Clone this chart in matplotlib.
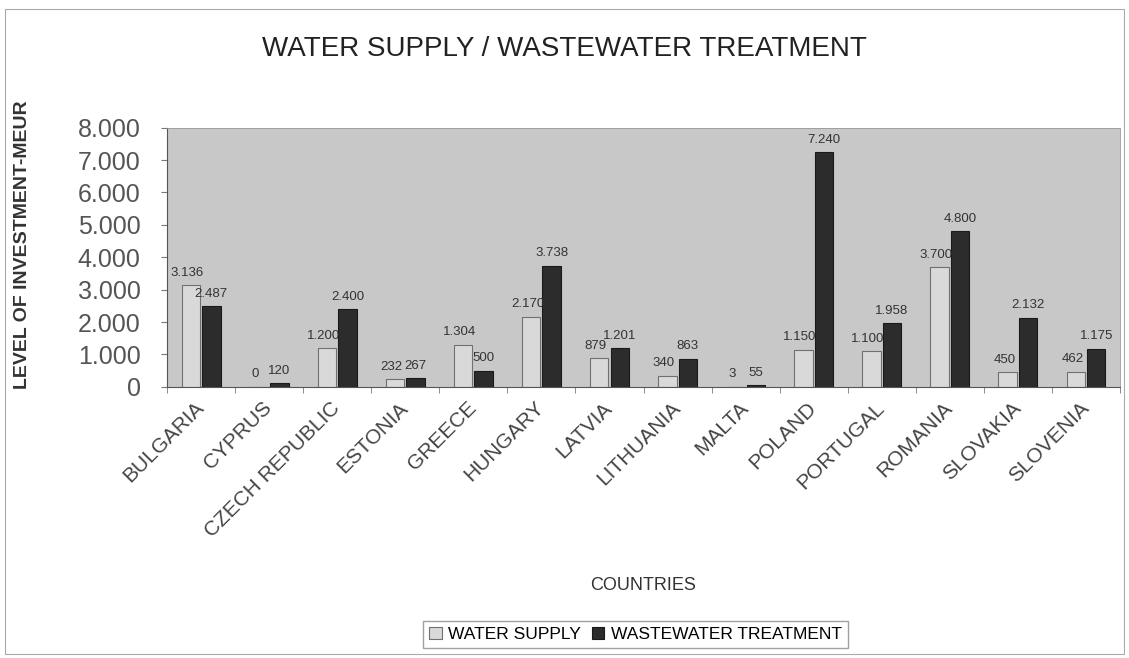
import numpy as np
import matplotlib.pyplot as plt
from matplotlib.patches import Rectangle
from matplotlib.transforms import ScaledTranslation

plt.rcParams['font.family'] = ['Liberation Sans', 'DejaVu Sans']

# Investment levels (MEUR) per country
countries = ['BULGARIA', 'CYPRUS', 'CZECH REPUBLIC', 'ESTONIA', 'GREECE',
             'HUNGARY', 'LATVIA', 'LITHUANIA', 'MALTA', 'POLAND',
             'PORTUGAL', 'ROMANIA', 'SLOVAKIA', 'SLOVENIA']
water_supply = [3136, 0, 1200, 232, 1304, 2170, 879, 340, 3, 1150,
                1100, 3700, 450, 462]
wastewater = [2487, 120, 2400, 267, 500, 3738, 1201, 863, 55, 7240,
              1958, 4800, 2132, 1175]
yticks = [0, 1000, 2000, 3000, 4000, 5000, 6000, 7000, 8000]


def fmt(v):
    # thousands separated by a dot, like the original
    return '{:,}'.format(v).replace(',', '.')


fig = plt.figure(figsize=(11.29, 6.58), dpi=100)
ax = fig.add_axes([0.148, 0.412, 0.844, 0.394])

x = np.arange(len(countries))
w = 0.27
b1 = ax.bar(x - 0.15, water_supply, w, color='#d9d9d9', edgecolor='#707070',
            linewidth=0.8, label='WATER SUPPLY')
b2 = ax.bar(x + 0.15, wastewater, w, color='#2c2c2c', edgecolor='#1a1a1a',
            linewidth=0.8, label='WASTEWATER TREATMENT')

for rect, v in zip(b1, water_supply):
    ax.text(rect.get_x() + rect.get_width()/2 - 0.05, v + 200, fmt(v),
            ha='center', va='bottom', fontsize=9.5, color='#333333')
for rect, v in zip(b2, wastewater):
    ax.text(rect.get_x() + rect.get_width()/2, v + 200, fmt(v),
            ha='center', va='bottom', fontsize=9.5, color='#333333')

ax.set_facecolor('#c8c8c8')
ax.set_xlim(-0.5, len(countries) - 0.5)
ax.set_ylim(0, 8000)
ax.set_yticks(yticks)
ax.set_yticklabels([fmt(t) for t in yticks], fontsize=18, color='#555555')
ax.tick_params(axis='y', length=4, pad=15, color='#777777')
ax.set_xticks(x)
ax.set_xticklabels(countries, rotation=45, ha='right', va='center',
                   rotation_mode='anchor', fontsize=15, color='#444444')
# nudge the slanted names a little to the left, as in the original
shift = ScaledTranslation(-0.1, 0, fig.dpi_scale_trans)
for lab in ax.get_xticklabels():
    lab.set_transform(lab.get_transform() + shift)
ax.set_xticks(np.arange(len(countries) + 1) - 0.5, minor=True)
ax.tick_params(axis='x', which='major', length=0, pad=13)
ax.tick_params(axis='x', which='minor', length=4, color='#777777')

for s in ['top', 'right']:
    ax.spines[s].set_color('#999999')
    ax.spines[s].set_linewidth(0.6)
for s in ['left', 'bottom']:
    ax.spines[s].set_color('#555555')
    ax.spines[s].set_linewidth(0.8)

ax.set_ylabel('LEVEL OF INVESTMENT-MEUR', fontsize=14, fontweight='bold',
              color='#333333')
ax.yaxis.set_label_coords(-0.143, 0.55)
ax.set_xlabel('COUNTRIES', fontsize=13, color='#333333')
ax.xaxis.set_label_coords(0.5, -0.735)

fig.text(0.5, 0.926, 'WATER SUPPLY / WASTEWATER TREATMENT', ha='center',
         va='center', fontsize=20, color='#222222')

fig.legend(handles=[b1, b2], loc='center', bbox_to_anchor=(0.563, 0.036),
           ncol=2, fontsize=12.5, frameon=True, fancybox=False,
           edgecolor='#888888', handlelength=0.7, handleheight=0.7,
           handletextpad=0.4, columnspacing=0.6, borderpad=0.35)

fig.patches.append(Rectangle((0.004, 0.006), 0.992, 0.981, transform=fig.transFigure,
                             fill=False, edgecolor='#aaaaaa', linewidth=0.8))

fig.savefig('out.png', dpi=100)
